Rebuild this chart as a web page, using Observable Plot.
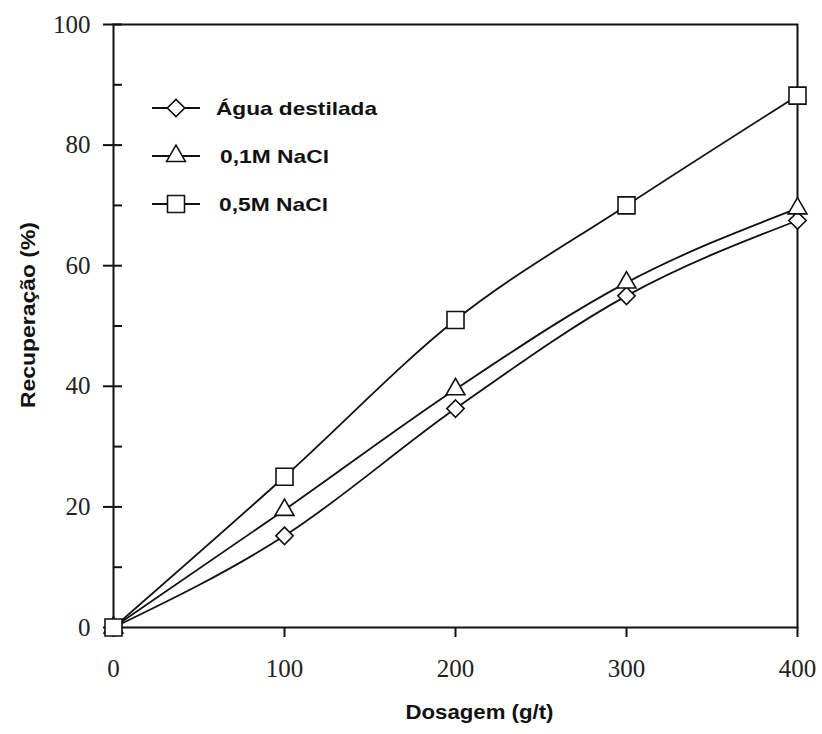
<!DOCTYPE html>
<html>
<head>
<meta charset="utf-8">
<script src="https://cdn.jsdelivr.net/npm/d3@7"></script>
<script src="https://cdn.jsdelivr.net/npm/@observablehq/plot@0.6"></script>
<style>
  html, body { margin: 0; padding: 0; background: #fff; }
  #wrap { position: relative; width: 822px; height: 734px; }
  #legend { position: absolute; left: 0; top: 0; pointer-events: none; }
</style>
</head>
<body>
<div id="wrap"></div>
<script>
// ---- data ----
const doses = [0, 100, 200, 300, 400];
const aguaDestilada = [0, 15.2, 36.3, 55.0, 67.5];
const nacl01 = [0, 19.5, 39.5, 57.2, 69.5];
const nacl05 = [0, 25.0, 51.0, 70.0, 88.2];
const seriesNames = ["Água destilada", "0,1M NaCl", "0,5M NaCl"];
const seriesValues = [aguaDestilada, nacl01, nacl05];
const seriesSymbols = ["diamond2", "triangle", "square"];
const symbolRadius = [7.8, 7.0, 9.6];
const yTicks = [0, 20, 40, 60, 80, 100];
const yMinorTicks = [10, 30, 50, 70, 90];
const xTicks = [0, 100, 200, 300, 400];
const xLabel = "Dosagem (g/t)";
const yLabel = "Recuperação (%)";

const rows = seriesNames.flatMap((name, i) =>
  doses.map((d, j) => ({series: name, dose: d, value: seriesValues[i][j], idx: i})));

const ink = "#111";
const serif = "'Liberation Serif', 'Times New Roman', serif";
const sans = "'Liberation Sans', Arial, sans-serif";

const marks = [
  Plot.frame({stroke: ink, strokeWidth: 2}),
  Plot.axisY(yTicks, {tickSize: 10, tickPadding: 13, label: null, strokeWidth: 2, stroke: ink, fontSize: 25, fontFamily: serif, fill: "#222"}),
  Plot.axisY(yTicks, {tickSize: -9, text: null, label: null, strokeWidth: 2, stroke: ink}),
  Plot.axisY(yMinorTicks, {tickSize: -9, text: null, label: null, strokeWidth: 2, stroke: ink}),
  Plot.axisX(xTicks, {tickSize: 10, tickPadding: 22, label: null, strokeWidth: 2, stroke: ink, fontSize: 25, fontFamily: serif, fill: "#222"}),
  Plot.text([yLabel], {frameAnchor: "left", dx: -85, dy: 82, rotate: -90, textAnchor: "start", fontFamily: sans, fontWeight: "bold", fontSize: 20, fill: ink, className: "ylab"}),
  Plot.text([xLabel], {frameAnchor: "bottom", dx: 24, dy: 91, fontFamily: sans, fontWeight: "bold", fontSize: 20, fill: ink, className: "xlab"})
];
seriesNames.forEach((name, i) => {
  const data = rows.filter(r => r.series === name);
  marks.push(Plot.line(data, {x: "dose", y: "value", curve: "monotone-x", stroke: ink, strokeWidth: 1.8}));
});
seriesNames.forEach((name, i) => {
  const data = rows.filter(r => r.series === name);
  marks.push(Plot.dot(data, {x: "dose", y: "value", symbol: seriesSymbols[i], r: symbolRadius[i], fill: "white", stroke: ink, strokeWidth: 1.6}));
});

const chart = Plot.plot({
  width: 822,
  height: 734,
  marginLeft: 113,
  marginRight: 25,
  marginTop: 24,
  marginBottom: 107,
  x: {domain: [0, 400]},
  y: {domain: [0, 100]},
  style: {fontFamily: serif, fontSize: "25px", color: ink, background: "white", overflow: "visible"},
  marks
});
document.getElementById("wrap").appendChild(chart);
d3.select(chart).selectAll(".xlab text").attr("textLength", 148).attr("lengthAdjust", "spacingAndGlyphs");
d3.select(chart).selectAll(".ylab text").attr("textLength", 186).attr("lengthAdjust", "spacingAndGlyphs");

// ---- legend (overlay) ----
const leg = d3.select("#wrap").append("svg")
  .attr("id", "legend").attr("width", 822).attr("height", 734);
const rowY = [108, 156, 204];
const textX = [216, 220, 219];
const textLen = [161, 109, 109];
seriesNames.forEach((name, i) => {
  const g = leg.append("g").attr("transform", `translate(0,${rowY[i]})`);
  g.append("line").attr("x1", 152).attr("x2", 200).attr("y1", 0).attr("y2", 0)
    .attr("stroke", ink).attr("stroke-width", 1.8);
  const sym = {diamond2: d3.symbolDiamond2, triangle: d3.symbolTriangle, square: d3.symbolSquare}[seriesSymbols[i]];
  g.append("path").attr("d", d3.symbol(sym, Math.PI * symbolRadius[i] ** 2)())
    .attr("transform", "translate(176,0)")
    .attr("fill", "white").attr("stroke", ink).attr("stroke-width", 1.6);
  g.append("text").attr("x", textX[i]).attr("y", 0).attr("dy", "0.36em")
    .attr("font-family", sans).attr("font-weight", "bold").attr("font-size", 19)
    .attr("textLength", textLen[i]).attr("lengthAdjust", "spacingAndGlyphs")
    .attr("fill", ink).text(name);
});
</script>
</body>
</html>
